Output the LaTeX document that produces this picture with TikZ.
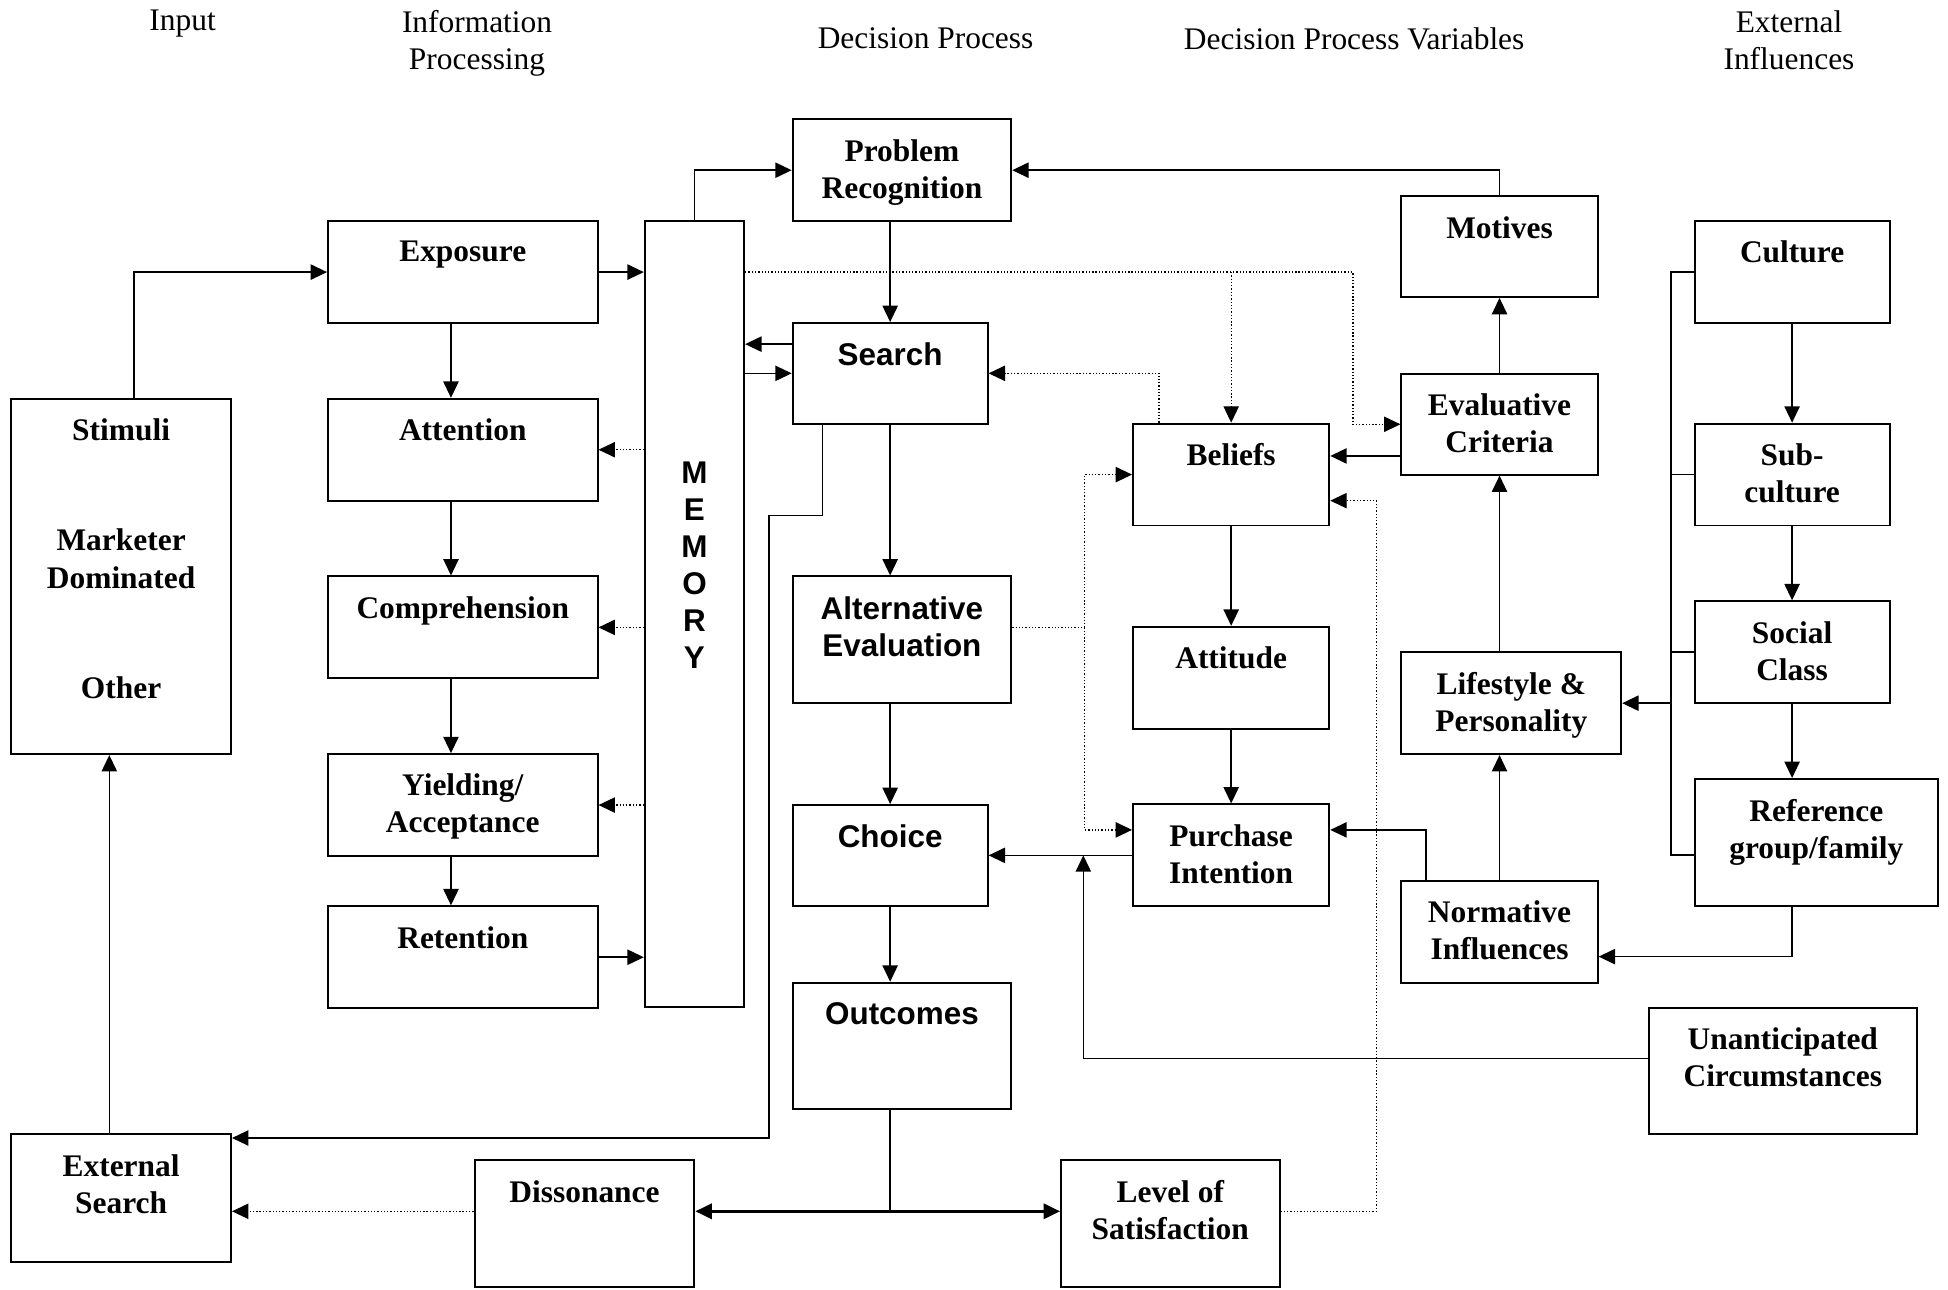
\documentclass[tikz,border=0pt]{standalone}
\usepackage{fontspec}
\setmainfont{Liberation Serif}
\setsansfont{Liberation Sans}
\usetikzlibrary{arrows.meta}

\begin{document}
\begin{tikzpicture}[x=0.02cm, y=-0.02cm, line join=miter,
  >={Triangle[length=7.5pt,width=7pt]},
  font=\fontsize{14.4}{17}\selectfont,
  blk/.style={draw, line width=.9pt, inner sep=0pt},
  sz/.style 2 args={minimum width=#1cm, minimum height=#2cm},
  tx/.style={anchor=north, yshift=-.33cm, inner sep=0pt, align=center,
    font=\fontsize{14.4}{17}\selectfont\bfseries},
  txs/.style={tx, font=\fontsize{14.4}{17}\selectfont\sffamily\bfseries},
  hd/.style={anchor=north, align=center, inner sep=0pt},
  arr/.style={->, line width=.7pt},
  arrr/.style={<->, line width=1.1pt},
  ln/.style={line width=.7pt},
  dot/.style={->, line width=.6pt, dash pattern=on .6pt off .9pt}]
\useasboundingbox (0,0) rectangle (1568,1038);

% column heads
\node[hd] (hin) at (147,8) {Input};
\node[hd] (hip) at (384,8) {Information\\Processing};
\node[hd] (hdp) at (745,22) {Decision Process};
\node[hd] (hdv) at (1090,22) {Decision Process Variables};
\node[hd] (hex) at (1440,8) {External\\Influences};

% input
\node[blk, sz={3.54}{5.72}, label={[tx]north:Stimuli\\[1.18cm]Marketer\\Dominated\\[1.18cm]Other}] (stim) at (97.5,464) {};
\node[blk, sz={3.54}{2.06}, label={[tx]north:External\\Search}] (exts) at (97.5,964.5) {};

% information processing
\node[blk, sz={4.34}{1.64}, label={[tx]north:Exposure}] (expo) at (372.5,219) {};
\node[blk, sz={4.34}{1.64}, label={[tx]north:Attention}] (attn) at (372.5,362) {};
\node[blk, sz={4.34}{1.64}, label={[tx]north:Comprehension}] (comp) at (372.5,505) {};
\node[blk, sz={4.34}{1.64}, label={[tx]north:Yielding/\\Acceptance}] (yld) at (372.5,648) {};
\node[blk, sz={4.34}{1.64}, label={[tx]north:Retention}] (ret) at (372.5,770.5) {};
\node[blk, sz={1.6}{12.66}, label={[txs,yshift=-3.55cm]north:M\\E\\M\\O\\R\\Y}] (mem) at (559,494.5) {};

% decision process
\node[blk, sz={3.52}{1.64}, label={[tx]north:Problem\\Recognition}] (prob) at (726,137) {};
\node[blk, sz={3.14}{1.62}, label={[txs]north:Search}] (srch) at (716.5,300.5) {};
\node[blk, sz={3.52}{2.04}, label={[txs]north:Alternative\\Evaluation}] (alt) at (726,515) {};
\node[blk, sz={3.14}{1.62}, label={[txs]north:Choice}] (chc) at (716.5,688.5) {};
\node[blk, sz={3.52}{2.04}, label={[txs]north:Outcomes}] (outc) at (726,842) {};
\node[blk, sz={3.54}{2.04}, label={[tx]north:Dissonance}] (diss) at (470.5,985) {};
\node[blk, sz={3.52}{2.04}, label={[tx]north:Level of\\Satisfaction}] (sat) at (942,985) {};

% decision process variables
\node[blk, sz={3.16}{1.62}, label={[tx]north:Motives}] (mot) at (1207,198.5) {};
\node[blk, sz={3.16}{1.62}, label={[tx]north:Evaluative\\Criteria}] (evc) at (1207,341.5) {};
\node[blk, sz={3.16}{1.64}, label={[tx]north:Beliefs}] (blf) at (991,382) {};
\node[blk, sz={3.16}{1.64}, label={[tx]north:Attitude}] (att) at (991,545.5) {};
\node[blk, sz={3.16}{1.64}, label={[tx]north:Purchase\\Intention}] (pint) at (991,688.5) {};
\node[blk, sz={3.54}{1.64}, label={[tx]north:Lifestyle \&\\Personality}] (life) at (1216.5,566) {};
\node[blk, sz={3.16}{1.64}, label={[tx]north:Normative\\Influences}] (norm) at (1207,750) {};

% external influences
\node[blk, sz={3.14}{1.64}, label={[tx]north:Culture}] (cult) at (1442.5,219) {};
\node[blk, sz={3.14}{1.64}, label={[tx]north:Sub-\\culture}] (subc) at (1442.5,382) {};
\node[blk, sz={3.14}{1.64}, label={[tx]north:Social\\Class}] (soc) at (1442.5,525) {};
\node[blk, sz={3.92}{2.04}, label={[tx]north:Reference\\group/family}] (refg) at (1462,678) {};
\node[blk, sz={4.32}{2.04}, label={[tx]north:Unanticipated\\Circumstances}] (unan) at (1435,862) {};

% input links
\draw[arr] (stim.north -| 108,0) |- (expo.west);
\draw[arr] (exts.north -| 88,0) -- (stim.south -| 88,0);

% information processing links
\coordinate (ipx) at (363,0);
\draw[arr] (expo.south -| ipx) -- (attn.north -| ipx);
\draw[arr] (attn.south -| ipx) -- (comp.north -| ipx);
\draw[arr] (comp.south -| ipx) -- (yld.north -| ipx);
\draw[arr] (yld.south -| ipx) -- (ret.north -| ipx);
\draw[arr] (expo.east) -- (mem.west |- expo.east);
\draw[arr] (ret.east) -- (mem.west |- ret.east);
\foreach \n in {attn,comp,yld}
  \draw[dot] (mem.west |- \n.east) -- (\n.east);

% decision process links
\draw[arr] (mem.north) |- (prob.west);
\draw[arr] (prob.south -| srch.north) -- (srch.north);
\draw[arr] (srch.west |- 0,277) -- (mem.east |- 0,277);
\draw[arr] (mem.east |- srch.west) -- (srch.west);
\draw[arr] (srch.south) -- (alt.north -| srch.south);
\draw[arr] (alt.south -| chc.north) -- (chc.north);
\draw[arr] (chc.south) -- (outc.north -| chc.south);
\draw[arr] (srch.south -| 662,0) |- (619,415) |- (exts.east |- 0,916);
\draw[ln] (outc.south -| chc.south) -- (chc.south |- 0,975);
\draw[arrr] (diss.east |- 0,975) -- (sat.west |- 0,975);
\draw[dot] (diss.west |- 0,975) -- (exts.east |- 0,975);
\draw[dot] (sat.east |- 0,975) -| (1108,403) -- (blf.east |- 0,403);

% decision process variable links
\draw[arr] (blf.south) -- (att.north);
\draw[arr] (att.south) -- (pint.north);
\draw[arr] (pint.west) -- (chc.east);
\draw[arr] (unan.west |- 0,852) -| (chc.east -| 872,0);
\draw[dot] (alt.east |- 0,505) -- (873,505) |- (blf.west);
\draw[dot] (873,505) |- (pint.west |- 0,668);
\draw[dot] (mem.east |- expo.east) -- (1089,219) |- (evc.west);
\draw[dot] (991,219) -- (blf.north);
\draw[dot] (blf.north -| 933,0) |- (srch.east);
\draw[arr] (evc.west |- 0,367) -- (blf.east |- 0,367);
\draw[arr] (mot.north) |- (prob.east);
\draw[arr] (evc.north) -- (mot.south);
\draw[arr] (life.north -| evc.north) -- (evc.south);
\draw[arr] (norm.north) -- (life.south -| norm.north);
\draw[arr] (norm.north -| 1148,0) |- (pint.east |- 0,668);

% external influence links
\draw[arr] (cult.south) -- (subc.north);
\draw[arr] (subc.south) -- (soc.north);
\draw[arr] (soc.south) -- (refg.north -| soc.south);
\coordinate (brk) at (1345,0);
\draw[ln] (cult.west) -| (brk |- 0,688) -- (refg.west |- 0,688);
\draw[ln] (subc.west) -- (subc.west -| brk);
\draw[ln] (soc.west) -- (soc.west -| brk);
\draw[arr] (brk |- life.east) -- (life.east);
\draw[arr] (refg.south -| soc.south) |- (norm.east |- 0,770);
\end{tikzpicture}
\end{document}
